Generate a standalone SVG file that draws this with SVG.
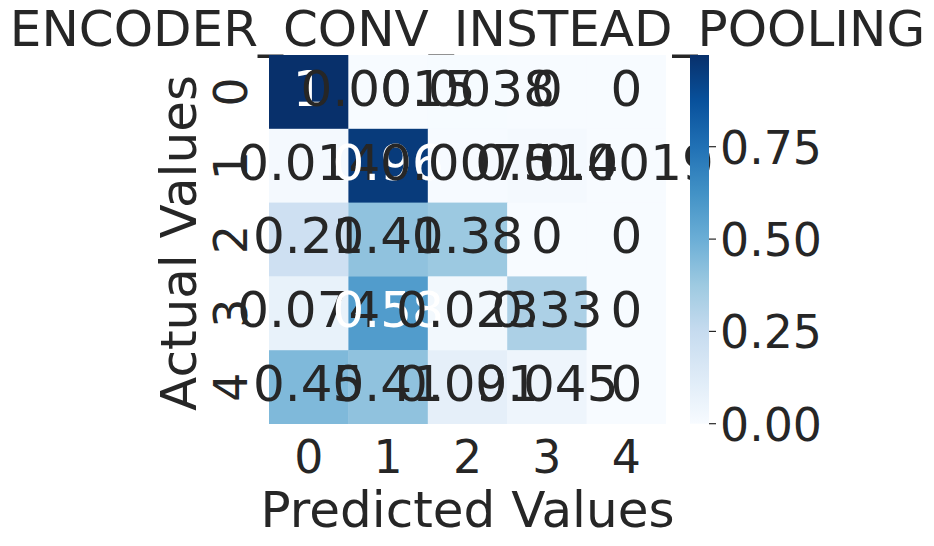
<svg xmlns="http://www.w3.org/2000/svg" width="934" height="546" viewBox="0 0 934 546">
<defs>
<linearGradient id="blues" x1="0" y1="1" x2="0" y2="0">
<stop offset="0" stop-color="#f7fbff"/>
<stop offset="0.125" stop-color="#deebf7"/>
<stop offset="0.25" stop-color="#c6dbef"/>
<stop offset="0.375" stop-color="#9ecae1"/>
<stop offset="0.5" stop-color="#6baed6"/>
<stop offset="0.625" stop-color="#4292c6"/>
<stop offset="0.75" stop-color="#2171b5"/>
<stop offset="0.875" stop-color="#08519c"/>
<stop offset="1" stop-color="#08306b"/>
</linearGradient>
</defs>
<style>
text{font-family:"DejaVu Sans","Liberation Sans",sans-serif;fill:#262626}
.an{font-size:50px;text-anchor:middle}
.w{fill:#ffffff}
.tk{font-size:45.8px;text-anchor:middle}
.cb{font-size:45.8px;text-anchor:start}
.lb{font-size:50px;text-anchor:middle}
.tick{stroke:#262626;stroke-width:1.2}
</style>
<rect width="934" height="546" fill="#ffffff"/>
<g id="title"><text class="lb" x="467.5" y="46">ENCODER_CONV_INSTEAD_POOLING</text></g>
<g id="cells">
<rect x="269" y="55" width="79.8" height="74.2" fill="#08306b"/>
<rect x="348.4" y="55" width="79.8" height="74.2" fill="#f7fbff"/>
<rect x="427.8" y="55" width="79.8" height="74.2" fill="#f6fbff"/>
<rect x="507.2" y="55" width="79.8" height="74.2" fill="#f7fbff"/>
<rect x="586.6" y="55" width="79.4" height="74.2" fill="#f7fbff"/>
<rect x="269" y="128.8" width="79.8" height="74.2" fill="#f4f9fe"/>
<rect x="348.4" y="128.8" width="79.8" height="74.2" fill="#083b7b"/>
<rect x="427.8" y="128.8" width="79.8" height="74.2" fill="#f6faff"/>
<rect x="507.2" y="128.8" width="79.8" height="74.2" fill="#f4f9fe"/>
<rect x="586.6" y="128.8" width="79.4" height="74.2" fill="#f7fbff"/>
<rect x="269" y="202.6" width="79.8" height="74.2" fill="#cee0f2"/>
<rect x="348.4" y="202.6" width="79.8" height="74.2" fill="#90c2de"/>
<rect x="427.8" y="202.6" width="79.8" height="74.2" fill="#9cc9e1"/>
<rect x="507.2" y="202.6" width="79.8" height="74.2" fill="#f7fbff"/>
<rect x="586.6" y="202.6" width="79.4" height="74.2" fill="#f7fbff"/>
<rect x="269" y="276.4" width="79.8" height="74.2" fill="#e8f2fa"/>
<rect x="348.4" y="276.4" width="79.8" height="74.2" fill="#519ccc"/>
<rect x="427.8" y="276.4" width="79.8" height="74.2" fill="#f2f8fd"/>
<rect x="507.2" y="276.4" width="79.8" height="74.2" fill="#acd0e6"/>
<rect x="586.6" y="276.4" width="79.4" height="74.2" fill="#f7fbff"/>
<rect x="269" y="350.2" width="79.8" height="73.8" fill="#7fb9da"/>
<rect x="348.4" y="350.2" width="79.8" height="73.8" fill="#90c2de"/>
<rect x="427.8" y="350.2" width="79.8" height="73.8" fill="#e5eff9"/>
<rect x="507.2" y="350.2" width="79.8" height="73.8" fill="#eef5fc"/>
<rect x="586.6" y="350.2" width="79.4" height="73.8" fill="#f7fbff"/>
</g>
<g id="annotations">
<text class="an w" x="308.7" y="105.7">1</text>
<text class="an" x="388.1" y="105.7">0.0015</text>
<text class="an" x="467.5" y="105.7">0.0038</text>
<text class="an" x="546.9" y="105.7">0</text>
<text class="an" x="626.3" y="105.7">0</text>
<text class="an" x="308.7" y="179.5">0.014</text>
<text class="an w" x="388.1" y="179.5">0.96</text>
<text class="an" x="467.5" y="179.5">0.0075</text>
<text class="an" x="546.9" y="179.5">0.014</text>
<text class="an" x="626.3" y="179.5">0.0019</text>
<text class="an" x="308.7" y="253.3">0.21</text>
<text class="an" x="388.1" y="253.3">0.41</text>
<text class="an" x="467.5" y="253.3">0.38</text>
<text class="an" x="546.9" y="253.3">0</text>
<text class="an" x="626.3" y="253.3">0</text>
<text class="an" x="308.7" y="327.1">0.074</text>
<text class="an w" x="388.1" y="327.1">0.58</text>
<text class="an" x="467.5" y="327.1">0.023</text>
<text class="an" x="546.9" y="327.1">0.33</text>
<text class="an" x="626.3" y="327.1">0</text>
<text class="an" x="308.7" y="400.9">0.45</text>
<text class="an" x="388.1" y="400.9">0.41</text>
<text class="an" x="467.5" y="400.9">0.091</text>
<text class="an" x="546.9" y="400.9">0.045</text>
<text class="an" x="626.3" y="400.9">0</text>
</g>
<g id="x-axis">
<text class="tk" x="308.7" y="473.3">0</text>
<text class="tk" x="388.1" y="473.3">1</text>
<text class="tk" x="467.5" y="473.3">2</text>
<text class="tk" x="546.9" y="473.3">3</text>
<text class="tk" x="626.3" y="473.3">4</text>
<text class="lb" x="467.5" y="526.7">Predicted Values</text>
</g>
<g id="y-axis">
<text class="tk" transform="translate(247,91.9) rotate(-90)">0</text>
<text class="tk" transform="translate(247,165.7) rotate(-90)">1</text>
<text class="tk" transform="translate(247,239.5) rotate(-90)">2</text>
<text class="tk" transform="translate(247,313.3) rotate(-90)">3</text>
<text class="tk" transform="translate(247,387.1) rotate(-90)">4</text>
<text class="lb" transform="translate(196,243) rotate(-90)">Actual Values</text>
</g>
<g id="colorbar">
<rect x="690" y="55" width="19" height="368.7" fill="url(#blues)"/>
<line class="tick" x1="709" y1="146.7" x2="716" y2="146.7"/>
<line class="tick" x1="709" y1="239.1" x2="716" y2="239.1"/>
<line class="tick" x1="709" y1="331.4" x2="716" y2="331.4"/>
<line class="tick" x1="709" y1="423.7" x2="716" y2="423.7"/>
<text class="cb" x="720" y="163.5">0.75</text>
<text class="cb" x="720" y="256">0.50</text>
<text class="cb" x="720" y="348.3">0.25</text>
<text class="cb" x="720" y="440.6">0.00</text>
</g>
</svg>
